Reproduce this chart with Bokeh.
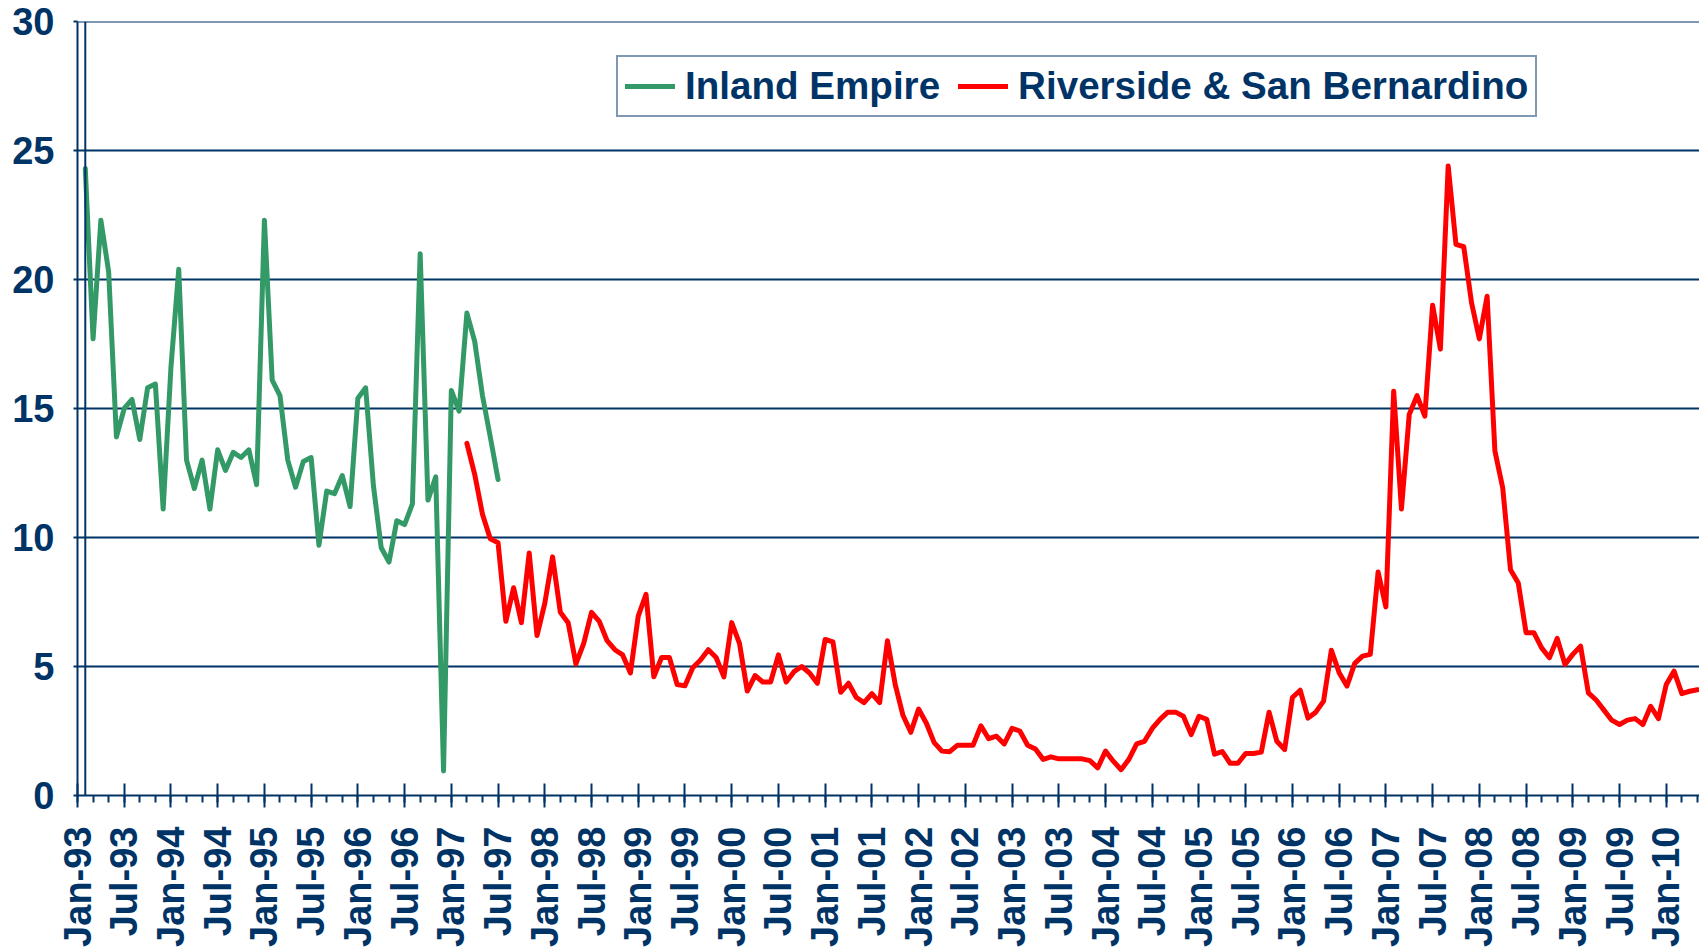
import math
from bokeh.plotting import figure
from bokeh.models import Range1d, FixedTicker, Span, Legend, LegendItem
from bokeh.embed import file_html
from bokeh.resources import INLINE

# ---------------- data ----------------
# month index 0 = Jan-93
green_start = 1   # Feb-93
green_values = [24.3, 17.7, 22.3, 20.3, 13.9, 15.0, 15.35, 13.8, 15.8, 15.95, 11.1,
                16.6, 20.4, 13.0, 11.9, 13.0, 11.1, 13.4, 12.6, 13.3, 13.1, 13.4, 12.05,
                22.3, 16.1, 15.5, 13.0, 11.95, 12.95, 13.1, 9.7, 11.8, 11.7, 12.4, 11.2,
                15.4, 15.8, 12.0, 9.6, 9.05, 10.65, 10.5, 11.3, 21.0, 11.45, 12.35, 0.95,
                15.7, 14.9, 18.7, 17.6, 15.5, 13.9, 12.25]

red_start = 50    # Mar-97
red_values = [13.65, 12.45, 10.9, 9.95, 9.8, 6.75, 8.05, 6.7, 9.4, 6.2,
              7.45, 9.25, 7.1, 6.7, 5.1, 5.9, 7.1, 6.75, 6.0, 5.65,
              5.45, 4.75, 6.95, 7.8, 4.6, 5.35, 5.35, 4.3, 4.25, 4.95,
              5.25, 5.65, 5.35, 4.6, 6.7, 5.9, 4.05, 4.65, 4.4, 4.4,
              5.45, 4.4, 4.8, 5.0, 4.75, 4.35, 6.05, 5.95, 4.0, 4.35,
              3.8, 3.6, 3.95, 3.6, 6.0, 4.3, 3.1, 2.45, 3.35, 2.8,
              2.05, 1.72, 1.7, 1.95, 1.95, 1.95, 2.7, 2.2, 2.3, 2.0,
              2.6, 2.5, 1.95, 1.8, 1.4, 1.5, 1.42, 1.42, 1.42, 1.42,
              1.35, 1.07, 1.72, 1.33, 1.0, 1.4, 2.0, 2.1, 2.6, 2.95,
              3.23, 3.23, 3.07, 2.36, 3.07, 2.95, 1.6, 1.7, 1.25, 1.25,
              1.63, 1.63, 1.68, 3.23, 2.1, 1.78, 3.8, 4.08, 3.0, 3.23,
              3.66, 5.63, 4.76, 4.24, 5.12, 5.4, 5.47, 8.66, 7.31, 15.67,
              11.1, 14.77, 15.5, 14.7, 19.0, 17.3, 24.4, 21.36, 21.27, 19.1,
              17.7, 19.35, 13.35, 11.93, 8.75, 8.24, 6.31, 6.31, 5.72, 5.34,
              6.09, 5.08, 5.47, 5.79, 3.98, 3.7, 3.31, 2.92, 2.75, 2.92,
              2.98, 2.75, 3.46, 2.98, 4.3, 4.82, 3.95, 4.04, 4.1]

tick_labels = ["Jan-93", "Jul-93", "Jan-94", "Jul-94", "Jan-95", "Jul-95", "Jan-96", "Jul-96",
               "Jan-97", "Jul-97", "Jan-98", "Jul-98", "Jan-99", "Jul-99", "Jan-00", "Jul-00",
               "Jan-01", "Jul-01", "Jan-02", "Jul-02", "Jan-03", "Jul-03", "Jan-04", "Jul-04",
               "Jan-05", "Jul-05", "Jan-06", "Jul-06", "Jan-07", "Jul-07", "Jan-08", "Jul-08",
               "Jan-09", "Jul-09", "Jan-10"]
y_ticks = [0, 5, 10, 15, 20, 25, 30]
series_names = ["Inland Empire", "Riverside & San Bernardino"]

# ---------------- styling ----------------
NAVY = "#003366"
GREEN = "#339966"
RED = "#FF0000"
FONT = "Liberation Sans"

green_x = [green_start + i for i in range(len(green_values))]
red_x = [red_start + i for i in range(len(red_values))]
major_ticks = [6 * i for i in range(len(tick_labels))]
minor_ticks = list(range(0, 210, 2))

p = figure(width=1699, height=949, output_backend="svg", toolbar_location=None,
           x_range=Range1d(0, 208.27), y_range=Range1d(0, 30),
           min_border_left=77, min_border_right=0, min_border_top=21, min_border_bottom=153)
p.outline_line_color = None
p.background_fill_color = "white"
p.border_fill_color = "white"

g = p.line(green_x, green_values, line_color=GREEN, line_width=5,
           line_join="round", line_cap="round")
r = p.line(red_x, red_values, line_color=RED, line_width=5,
           line_join="round", line_cap="round")

# axes
xa = p.xaxis[0]
xa.ticker = FixedTicker(ticks=major_ticks, minor_ticks=minor_ticks)
xa.major_label_overrides = {t: lab for t, lab in zip(major_ticks, tick_labels)}
xa.major_label_orientation = math.pi / 2
xa.major_label_text_font = FONT
xa.major_label_text_font_style = "bold"
xa.major_label_text_font_size = "38px"
xa.major_label_text_color = NAVY
xa.major_label_standoff = 19
xa.axis_line_color = NAVY
xa.axis_line_width = 2
xa.major_tick_line_color = NAVY
xa.major_tick_line_width = 2
xa.major_tick_in = 12
xa.major_tick_out = 12
xa.minor_tick_line_color = NAVY
xa.minor_tick_line_width = 2
xa.minor_tick_in = 0
xa.minor_tick_out = 7

ya = p.yaxis[0]
ya.ticker = FixedTicker(ticks=y_ticks, minor_ticks=[])
ya.major_label_text_font = FONT
ya.major_label_text_font_style = "bold"
ya.major_label_text_font_size = "38px"
ya.major_label_text_color = NAVY
ya.major_label_standoff = 19
ya.axis_line_color = NAVY
ya.axis_line_width = 2
ya.major_tick_line_color = NAVY
ya.major_tick_line_width = 2
ya.major_tick_in = 0
ya.major_tick_out = 4

p.xgrid.grid_line_color = None
p.ygrid.ticker = FixedTicker(ticks=y_ticks)
p.ygrid.grid_line_color = NAVY
p.ygrid.grid_line_width = 2

# top gridline at the top of the value range
p.add_layout(Span(location=y_ticks[-1], dimension="width", line_color=NAVY, line_width=2))
# second vertical line at the first data month
p.add_layout(Span(location=green_x[0], dimension="height", line_color=NAVY, line_width=2))

legend = Legend(items=[LegendItem(label=series_names[0], renderers=[g]),
                       LegendItem(label=series_names[1], renderers=[r])],
                orientation="horizontal", location=(539, 678))
legend.label_text_font = FONT
legend.label_text_font_style = "bold"
legend.label_text_font_size = "38.6px"
legend.label_text_color = NAVY
legend.glyph_width = 50
legend.glyph_height = 30
legend.label_standoff = 10
legend.spacing = 18
legend.padding = 7
legend.margin = 0
legend.border_line_color = NAVY
legend.border_line_width = 2
legend.background_fill_color = "white"
legend.background_fill_alpha = 1
p.add_layout(legend, "center")

open("out.html", "w").write(file_html(p, INLINE))
